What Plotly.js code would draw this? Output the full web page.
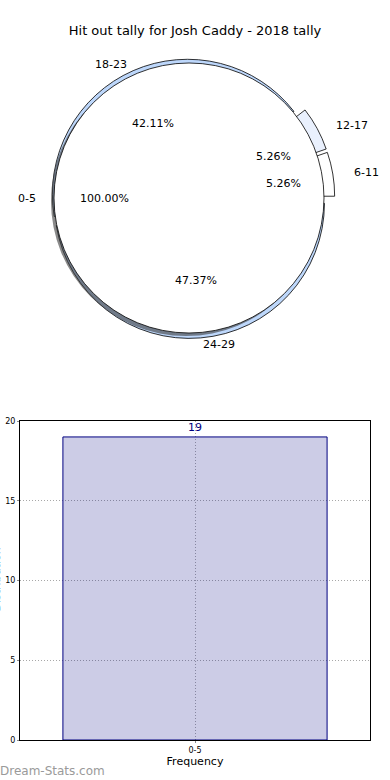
<!DOCTYPE html>
<html>
<head>
<meta charset="utf-8">
<script src="https://cdn.plot.ly/plotly-3.0.1.min.js"></script>
<style>html,body{margin:0;padding:0;background:#fff;}#chart{width:390px;height:780px;}</style>
</head>
<body>
<div id="chart"></div>
<script>
// ---- data ----
var titleText = "Hit out tally for Josh Caddy - 2018 tally";
var outerLabels = ["6-11", "12-17", "18-23", "24-29"];
var outerValues = [1, 1, 8, 9];
var outerColors = ["#ffffff", "#e9f0fd", "#bdd7fb", "#bdd7fb"];
var outerPull = [0.08, 0.08, 0.03, 0.04];
var innerLabels = ["0-5"];
var innerValues = [19];
var barCategories = ["0-5"];
var barValues = [19];
var yTicks = [0, 5, 10, 15, 20];

// ---- geometry helpers ----
var W = 390, H = 780;
var cx = 189, cy = 198, r = 135;       // pie centre / radius in px
var trx = 141, try_ = 129;             // text placement radii (px)
function px2x(p) { return p / W; }
function px2y(p) { return 1 - p / H; }
function domainFor(centerX, centerY, half) {
  return { x: [px2x(centerX - half), px2x(centerX + half)], y: [px2y(centerY + half), px2y(centerY - half)] };
}
var maxPull = Math.max.apply(null, outerPull);
var outerTotal = outerValues.reduce(function (a, b) { return a + b; }, 0);
// Plotly puts the first counterclockwise slice clockwise of the rotation line;
// shift so the first slice starts at 3 o'clock (matplotlib startangle 0)
var outerRotation = 90 - 360 * outerValues[0] / outerTotal;

var traces = [];
// outer (exploded) pie
traces.push({
  type: "pie", labels: outerLabels, values: outerValues, sort: false,
  direction: "counterclockwise", rotation: outerRotation, pull: outerPull,
  marker: { colors: outerColors, line: { color: "#000", width: 0.8 } },
  textinfo: "none", hoverinfo: "skip", showlegend: false,
  domain: domainFor(cx, cy, r * (1 + maxPull))
});
// shadow of inner pie
traces.push({
  type: "pie", labels: innerLabels, values: innerValues, sort: false,
  marker: { colors: ["rgba(60,60,60,0.6)"], line: { width: 0 } },
  textinfo: "none", hoverinfo: "skip", showlegend: false,
  domain: domainFor(cx - 3, cy + 3, r)
});
// inner pie
traces.push({
  type: "pie", labels: innerLabels, values: innerValues, sort: false,
  marker: { colors: ["#ffffff"], line: { color: "#000", width: 0.8 } },
  textinfo: "none", hoverinfo: "skip", showlegend: false,
  domain: domainFor(cx, cy, r)
});
// bar
traces.push({
  type: "bar", x: barCategories, y: barValues, width: 0.8,
  text: barValues.map(String), textposition: "outside", cliponaxis: false,
  textfont: { family: "DejaVu Sans", size: 11, color: "#000080" },
  marker: { color: "rgba(0,0,128,0.2)", line: { color: "#000080", width: 1 } },
  hoverinfo: "skip", showlegend: false
});

// pie text annotations computed from data (matplotlib-like placement)
var annotations = [];
function addPieTexts(labels, values, explode) {
  var total = values.reduce(function (a, b) { return a + b; }, 0);
  var cum = 0;
  for (var i = 0; i < values.length; i++) {
    var mid = 2 * Math.PI * (cum + values[i] / 2) / total;
    cum += values[i];
    var c = Math.cos(mid), s = Math.sin(mid), e = explode[i];
    var pctX = cx + (e + 0.6) * trx * c, pctY = cy - (e + 0.6) * try_ * s;
    var labX = cx + (e + 1.1) * trx * c, labY = cy - (e + 1.1) * try_ * s;
    annotations.push({ xref: "paper", yref: "paper", x: px2x(pctX), y: px2y(pctY), xanchor: "center", yanchor: "middle",
      text: (values[i] / total * 100).toFixed(2) + "%", showarrow: false, font: { family: "DejaVu Sans", size: 11, color: "#000" } });
    annotations.push({ xref: "paper", yref: "paper", x: px2x(labX), y: px2y(labY), xanchor: c >= 0 ? "left" : "right", yanchor: "middle",
      xshift: c >= 0 ? -1 : 4,
      text: labels[i], showarrow: false, font: { family: "DejaVu Sans", size: 11, color: "#000" } });
  }
}
addPieTexts(outerLabels, outerValues, outerPull);
addPieTexts(innerLabels, innerValues, [0]);

annotations.push({ xref: "paper", yref: "paper", x: px2x(-4.5), y: px2y(580), xanchor: "center", yanchor: "middle",
  text: "Distribution", textangle: -90, showarrow: false, font: { family: "DejaVu Sans", size: 11, color: "#000" } });
annotations.push({ xref: "paper", yref: "paper", x: px2x(-2), y: px2y(771), xanchor: "left", yanchor: "middle",
  text: "Dream-Stats.com", showarrow: false, font: { family: "DejaVu Sans", size: 12, color: "#9a9a9a" } });

var layout = {
  width: W, height: H, margin: { l: 0, r: 0, t: 0, b: 0 },
  paper_bgcolor: "#fff", plot_bgcolor: "#fff",
  font: { family: "DejaVu Sans", color: "#000" },
  title: { text: titleText, x: 0.5, xanchor: "center", y: px2y(30), yref: "container", yanchor: "middle",
    font: { family: "DejaVu Sans", size: 13, color: "#000" } },
  showlegend: false,
  xaxis: {
    domain: [px2x(20), px2x(370)], type: "category", range: [-0.53, 0.53],
    showline: true, mirror: true, linecolor: "#000", linewidth: 1,
    ticks: "outside", ticklen: 2, tickcolor: "#888",
    tickfont: { family: "DejaVu Sans", size: 8, color: "#000" },
    showgrid: true, gridcolor: "#a8a8a8", griddash: "1px,2px", gridwidth: 1,
    title: { text: "Frequency", standoff: 3, font: { family: "DejaVu Sans", size: 11, color: "#000" } },
    fixedrange: true
  },
  yaxis: {
    domain: [px2y(740), px2y(421)], range: [0, 20], tickvals: yTicks,
    showline: true, mirror: true, linecolor: "#000", linewidth: 1,
    ticks: "outside", ticklen: 2, tickcolor: "#888",
    tickfont: { family: "DejaVu Sans", size: 8, color: "#000" },
    showgrid: true, gridcolor: "#a8a8a8", griddash: "1px,2px", gridwidth: 1,
    zeroline: false, fixedrange: true
  },
  bargap: 0.2,
  annotations: annotations
};

Plotly.newPlot("chart", traces, layout, { staticPlot: true, displayModeBar: false });
</script>
</body>
</html>
